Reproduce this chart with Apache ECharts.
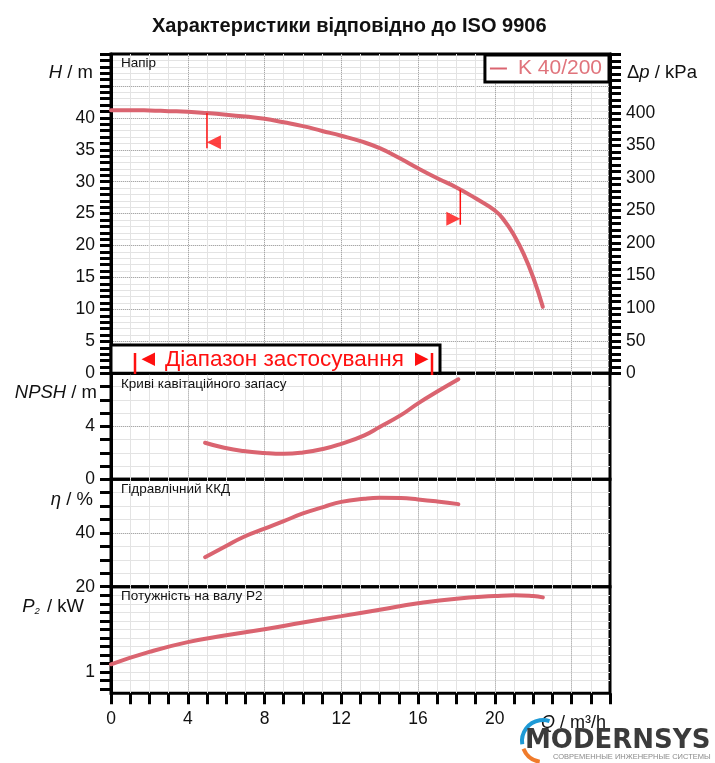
<!DOCTYPE html>
<html>
<head>
<meta charset="utf-8">
<title>K 40/200</title>
<script src="https://cdn.jsdelivr.net/npm/echarts@6.0.0/dist/echarts.min.js"></script>
<style>
html, body { margin: 0; padding: 0; background: #fff; }
#chartID { width: 715px; height: 763px; }
</style>
</head>
<body>
<div id="chartID"></div>
<script>
// Насос K 40/200, характеристики за ISO 9906
var pumpName = 'K 40/200';

// напір H, м
var flowHead = [0, 1, 2, 3, 4, 5, 6, 7, 8, 9, 10, 11, 12, 13, 14, 15, 16, 17, 18, 19, 20, 20.5, 21, 21.5, 22, 22.5];
var headData = [41.2, 41.2, 41.15, 41.05, 40.95, 40.75, 40.5, 40.2, 39.85, 39.3, 38.7, 37.95, 37.2, 36.35, 35.25, 33.75, 32.1, 30.55, 29.1, 27.4, 25.5, 23.9, 21.6, 18.7, 15.0, 10.4];

// NPSH, м
var flowNpsh = [4.9, 5.9, 6.9, 8, 9, 10, 11.1, 12, 13.2, 14, 15.1, 16, 17, 18.1];
var npshData = [2.76, 2.38, 2.13, 1.98, 1.92, 2.02, 2.3, 2.68, 3.32, 3.95, 4.84, 5.73, 6.62, 7.55];

// гідравлічний ККД, %
var flowEta = [4.9, 5.9, 6.9, 8, 9, 10, 11.1, 12, 13.2, 14, 15.1, 16, 17, 18.1];
var etaData = [31.0, 34.75, 38.5, 41.6, 44.4, 47.3, 49.75, 51.6, 52.75, 53.1, 53.0, 52.5, 51.75, 50.75];

// потужність на валу P2, кВт
var flowPower = [0, 2, 4, 6, 8, 10, 12, 14, 16, 18, 20, 21, 22, 22.5];
var powerData = [1.18, 1.47, 1.70, 1.86, 2.0, 2.16, 2.31, 2.46, 2.61, 2.72, 2.78, 2.80, 2.78, 2.75];

// межі робочого діапазону, м3/год
var rangeFlow = [5.0, 18.2];

// підписи осей
var flowLabels = [0, 4, 8, 12, 16, 20];
var headLabels = [0, 5, 10, 15, 20, 25, 30, 35, 40];
var npshLabels = [0, 4];
var etaLabels = [20, 40];
var powerLabels = [1];
var powerTicks = [0.6, 0.8, 1, 1.2, 1.4, 1.6, 1.8, 2, 2.2, 2.4, 2.6, 2.8, 3];
var powerGrid = [1, 2];
var dpLabels = [0, 50, 100, 150, 200, 250, 300, 350, 400];

var curveColor = '#da6470';
var markColor = '#ff1010';
var fontFam = '"Liberation Sans", Arial, sans-serif';
var rhoG = 9.81; // кПа на 1 м

function pairs(xs, ys) {
	var out = [];
	for (var i = 0; i < xs.length; i++) { out.push([xs[i], ys[i]]); }
	return out;
}
function headAt(q) {
	for (var i = 1; i < flowHead.length; i++) {
		if (q <= flowHead[i]) {
			var t = (q - flowHead[i - 1]) / (flowHead[i] - flowHead[i - 1]);
			return headData[i - 1] + t * (headData[i] - headData[i - 1]);
		}
	}
	return headData[headData.length - 1];
}
function pick(list) {
	return function (v) {
		for (var i = 0; i < list.length; i++) {
			if (Math.abs(list[i] - v) < 1e-6) { return String(v); }
		}
		return '';
	};
}

var gridTop = [54, 373.3, 479.3, 586.7];
var gridBottom = [373.3, 479.3, 586.7, 693.3];

var grids = [], xAxes = [], yAxes = [];
for (var g = 0; g < 4; g++) {
	grids.push({
		show: true, left: 111, right: 105, top: gridTop[g], height: gridBottom[g] - gridTop[g],
		borderColor: '#000', borderWidth: 3, backgroundColor: 'transparent', containLabel: false
	});
	var last = (g === 3);
	xAxes.push({
		type: 'value', gridIndex: g, min: 0, max: 26, interval: 1,
		axisLine: { show: false },
		axisTick: { show: last, length: 11, lineStyle: { color: '#000', width: 3 } },
		axisLabel: { show: last, margin: 17, fontSize: 17.5, color: '#111', fontFamily: fontFam, formatter: pick(flowLabels) },
		splitLine: { show: true, showMinLine: false, showMaxLine: false, lineStyle: { color: '#e3e3e3', width: 1 } }
	});
	xAxes.push({
		type: 'value', gridIndex: g, min: 0, max: 26, interval: 4,
		axisLine: { show: false }, axisTick: { show: false }, axisLabel: { show: false },
		splitLine: { show: true, showMinLine: false, showMaxLine: false, lineStyle: { color: '#a8a8a8', width: 1, type: 'dotted' } }
	});
}

function leftAxis(g, min, max, step, labels, extra) {
	var ax = {
		type: 'value', gridIndex: g, position: 'left', min: min, max: max, interval: step,
		axisLine: { show: true, lineStyle: { color: '#000', width: 3 } },
		axisTick: { show: true, length: 11, lineStyle: { color: '#000', width: 3 } },
		axisLabel: { margin: 16, fontSize: 17.5, color: '#111', fontFamily: fontFam, formatter: pick(labels) },
		splitLine: { show: true, showMinLine: false, showMaxLine: false, lineStyle: { color: '#e3e3e3', width: 1 } }
	};
	if (extra) {
		ax.axisTick.customValues = extra.ticks;
		ax.axisLabel.customValues = extra.labels;
		delete ax.interval;
	}
	return ax;
}
function dottedAxis(g, min, max, step, custom) {
	var ax = {
		type: 'value', gridIndex: g, position: 'left', min: min, max: max, interval: step,
		axisLine: { show: false }, axisTick: { show: false }, axisLabel: { show: false },
		splitLine: { show: true, showMinLine: false, showMaxLine: false, lineStyle: { color: '#a8a8a8', width: 1, type: 'dotted' } }
	};
	if (custom) {
		ax.axisTick.customValues = custom;
		delete ax.interval;
	}
	return ax;
}

// напір + тиск
yAxes.push(leftAxis(0, 0, 50, 1, headLabels));
yAxes.push(dottedAxis(0, 0, 50, 5));
yAxes.push({
	type: 'value', gridIndex: 0, position: 'right', min: 0, max: 50 * rhoG, interval: 10,
	axisLine: { show: true, lineStyle: { color: '#000', width: 3 } },
	axisTick: { show: true, length: 11, lineStyle: { color: '#000', width: 3 } },
	axisLabel: { margin: 16, fontSize: 17.5, color: '#111', fontFamily: fontFam, formatter: pick(dpLabels) },
	splitLine: { show: false }
});
// NPSH
yAxes.push(leftAxis(1, 0, 8, 1, npshLabels));
yAxes.push(dottedAxis(1, 0, 8, 4));
// ККД
yAxes.push(leftAxis(2, 20, 60, 5, etaLabels));
yAxes.push(dottedAxis(2, 20, 60, 20));
// P2
yAxes.push(leftAxis(3, 0.5, 3, 0.5, powerLabels, { ticks: powerTicks, labels: powerLabels }));
yAxes.push(dottedAxis(3, 0.5, 3, 0.5, powerGrid));

function curve(name, xi, yi, data) {
	return {
		name: name, type: 'line', xAxisIndex: xi, yAxisIndex: yi, data: data,
		smooth: 0.5, showSymbol: false, silent: true, z: 4,
		lineStyle: { color: curveColor, width: 4, cap: 'round' },
		itemStyle: { color: curveColor }
	};
}

var series = [
	curve(pumpName, 0, 0, pairs(flowHead, headData)),
	curve('NPSH', 2, 3, pairs(flowNpsh, npshData)),
	curve('eta', 4, 5, pairs(flowEta, etaData)),
	curve('P2', 6, 7, pairs(flowPower, powerData))
];

// маркери робочого діапазону на кривій напору
var markDrop = 5.5;
rangeFlow.forEach(function (q, k) {
	var h = headAt(q);
	series.push({
		type: 'line', xAxisIndex: 0, yAxisIndex: 0, data: [[q, h], [q, h - markDrop]],
		showSymbol: false, silent: true, z: 5, lineStyle: { color: markColor, width: 1.5 }
	});
	series.push({
		type: 'scatter', xAxisIndex: 0, yAxisIndex: 0, data: [[q, h - markDrop]],
		symbol: 'triangle', symbolSize: 14, symbolRotate: k === 0 ? 90 : -90,
		symbolOffset: k === 0 ? [7, -6] : [-7, -6], silent: true, z: 5,
		itemStyle: { color: markColor }
	});
});

function txt(x, y, text, size, align, rich) {
	return {
		type: 'text', x: x, y: y, z: 20, silent: true,
		style: {
			text: text, fill: '#111', fontSize: size, fontFamily: fontFam,
			align: align || 'left', verticalAlign: 'middle', rich: rich
		}
	};
}
function richSet(size) {
	return {
		i: { fontSize: size, fontFamily: fontFam, fontStyle: 'italic', fill: '#111' },
		n: { fontSize: size, fontFamily: fontFam, fill: '#111' },
		s: { fontSize: 9.5, fontFamily: fontFam, fontStyle: 'italic', fill: '#111', verticalAlign: 'bottom', padding: [0, 2, 0, 0] }
	};
}

var graphics = [
	txt(121, 63, 'Напір', 13.5),
	txt(121, 384, 'Криві кавітаційного запасу', 13.5),
	txt(121, 489.5, 'Гідравлічний ККД', 13.5),
	txt(121, 596, 'Потужність на валу P2', 13.5),
	txt(93, 73, '{i|H}{n| / m}', 18.5, 'right', richSet(18.5)),
	txt(97, 393, '{i|NPSH}{n| / m}', 18.5, 'right', richSet(18.5)),
	txt(93, 500, '{i|η}{n| / %}', 18.5, 'right', richSet(18.5)),
	txt(84, 607, '{i|P}{s|2}{n| / kW}', 18.5, 'right', richSet(18.5)),
	txt(627, 73, '{n|Δ}{i|p}{n| / kPa}', 18.5, 'left', richSet(18.5)),
	txt(541, 723, '{i|Q}{n| / m³/h}', 18, 'left', richSet(18)),
	// діапазон застосування
	{ type: 'rect', z: 50, silent: true, shape: { x: 111, y: 345, width: 329, height: 28.3 }, style: { fill: '#fff', stroke: '#000', lineWidth: 3 } },
	{ type: 'line', z: 51, silent: true, shape: { x1: 135, y1: 353, x2: 135, y2: 374 }, style: { stroke: markColor, lineWidth: 2.5 } },
	{ type: 'polygon', z: 51, silent: true, shape: { points: [[141.5, 359.3], [155, 352.5], [155, 366]] }, style: { fill: markColor } },
	{ type: 'text', z: 51, silent: true, x: 165, y: 359.5, style: { text: 'Діапазон застосування', fill: markColor, fontSize: 22.5, fontFamily: fontFam, verticalAlign: 'middle' } },
	{ type: 'polygon', z: 51, silent: true, shape: { points: [[428.5, 359.3], [415, 352.5], [415, 366]] }, style: { fill: markColor } },
	{ type: 'line', z: 51, silent: true, shape: { x1: 432, y1: 353, x2: 432, y2: 375 }, style: { stroke: markColor, lineWidth: 2.5 } },
	// логотип
	{ type: 'arc', z: 60, silent: true, shape: { cx: 543, cy: 741, r: 21, startAngle: Math.PI * 0.95, endAngle: Math.PI * 1.6, clockwise: true }, style: { stroke: '#1e9ad6', lineWidth: 4, fill: null } },
	{ type: 'arc', z: 60, silent: true, shape: { cx: 543, cy: 741, r: 21, startAngle: Math.PI * 0.55, endAngle: Math.PI * 0.88, clockwise: true }, style: { stroke: '#f07b2b', lineWidth: 4, fill: null } },
	{ type: 'text', z: 60, silent: true, x: 525, y: 741, style: { text: 'MODERNSYS', fill: '#3b3b3b', fontSize: 26, fontWeight: 'bold', fontFamily: '"DejaVu Sans", sans-serif', verticalAlign: 'middle' } },
	{ type: 'text', z: 60, silent: true, x: 553, y: 757, style: { text: 'СОВРЕМЕННЫЕ ИНЖЕНЕРНЫЕ СИСТЕМЫ', fill: '#8a8a8a', fontSize: 7.5, fontFamily: fontFam, verticalAlign: 'middle' } }
];

var chart = echarts.init(document.getElementById('chartID'));
var option = {
	animation: false,
	backgroundColor: '#fff',
	title: {
		text: 'Характеристики відповідно до ISO 9906', left: 147, top: 11,
		textStyle: { fontSize: 20, fontWeight: 'bold', color: '#111', fontFamily: fontFam }
	},
	legend: {
		data: [pumpName], right: 106, top: 55, selectedMode: false,
		padding: [3, 7, 3, 5], borderColor: '#000', borderWidth: 3, backgroundColor: '#fff',
		icon: 'rect', itemWidth: 17, itemHeight: 2,
		textStyle: { fontSize: 21, color: '#e0747c', fontFamily: fontFam, padding: [0, 0, 0, 6] }
	},
	grid: grids,
	xAxis: xAxes,
	yAxis: yAxes,
	series: series,
	graphic: graphics
};
chart.setOption(option);
</script>
</body>
</html>
